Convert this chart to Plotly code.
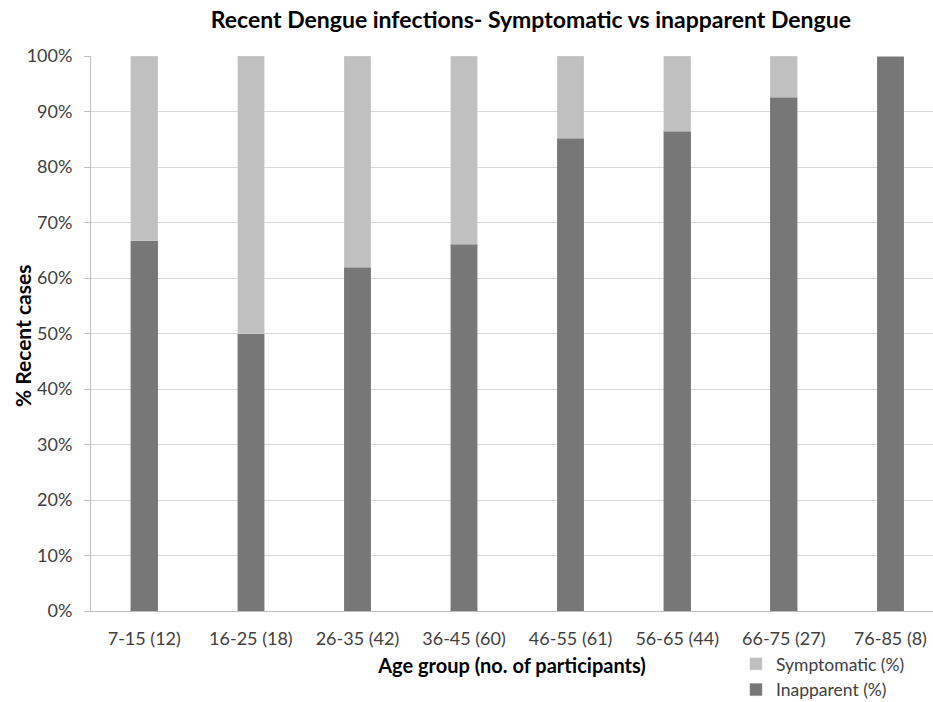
import plotly.graph_objects as go

categories = ["7-15 (12)", "16-25 (18)", "26-35 (42)", "36-45 (60)",
              "46-55 (61)", "56-65 (44)", "66-75 (27)", "76-85 (8)"]
inapparent = [66.7, 50.0, 61.9, 66.1, 85.2, 86.4, 92.6, 100.0]
symptomatic = [round(100 - v, 1) for v in inapparent]

FONT = "Lato"
TXT = "#404040"

fig = go.Figure()
fig.add_trace(go.Bar(x=categories, y=inapparent, name="Inapparent (%)",
                     marker=dict(color="#777777", line=dict(color="#8a8a8a", width=0.5)),
                     width=0.25))
fig.add_trace(go.Bar(x=categories, y=symptomatic, name="Symptomatic (%)",
                     marker=dict(color="#c0c0c0", line=dict(color="#cfcfcf", width=0.5)),
                     width=0.25))

fig.update_layout(
    barmode="stack",
    width=933, height=702,
    margin=dict(l=91, r=0, t=56, b=91, autoexpand=False),
    paper_bgcolor="white", plot_bgcolor="white",
    font=dict(family=FONT, size=18, color=TXT),
    title=dict(text="<b>Recent Dengue infections- Symptomatic vs inapparent Dengue</b>",
               x=0.569, xanchor="center", y=0.971, yanchor="middle",
               font=dict(family=FONT, size=23, color="#000000")),
    showlegend=True,
    legend=dict(x=0.766, y=-0.063, xanchor="left", yanchor="top",
                traceorder="reversed", font=dict(size=17.5, color=TXT),
                itemwidth=30, tracegroupgap=0, bgcolor="rgba(0,0,0,0)"),
    xaxis=dict(range=[-0.5, 7.4], showgrid=False, showline=True, linecolor="#bfbfbf",
               linewidth=1, ticks="", tickfont=dict(size=18, color=TXT),
               ticklabelstandoff=11, automargin=False,
               title=dict(text="<b>Age group (no. of participants)</b>",
                          font=dict(size=20, color="#000000"), standoff=11)),
    yaxis=dict(range=[0, 100], dtick=10, ticksuffix="%", showgrid=True,
               gridcolor="#d9d9d9", gridwidth=1, showline=True, linecolor="#bfbfbf",
               ticks="outside", ticklen=6, tickcolor="#bfbfbf",
               ticklabelstandoff=8, automargin=False,
               tickfont=dict(size=18, color=TXT), zeroline=False),
    annotations=[dict(text="<b>% Recent cases</b>", xref="paper", yref="paper",
                      x=-0.082, y=0.497, xanchor="center", yanchor="middle",
                      textangle=-90, showarrow=False,
                      font=dict(family=FONT, size=21, color="#000000"))],
)

fig.write_html("out.html", config={"displayModeBar": False},
               post_script="document.body.style.margin='0';document.body.style.overflow='hidden';")
